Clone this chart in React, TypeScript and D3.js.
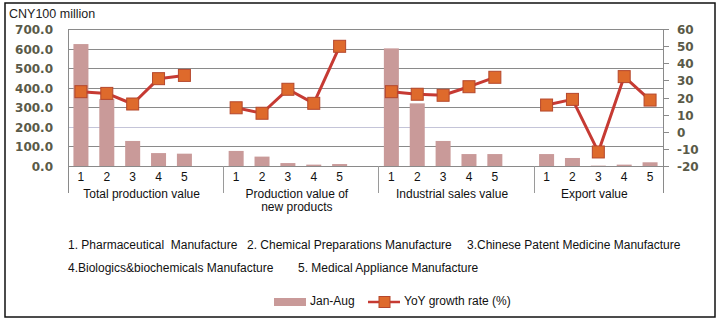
import React from "react";
import * as d3 from "d3";

const groups = ["Total production value", "Production value of new products", "Industrial sales value", "Export value"];
const groupLabelLines = [["Total production value"], ["Production value of", "new products"], ["Industrial sales value"], ["Export value"]];
const items = ["1", "2", "3", "4", "5"];

const totalProdValue = [623, 342, 128, 66, 63];
const newProdValue = [77, 48, 15, 7, 10];
const salesValue = [601, 320, 128, 61, 61];
const exportValue = [61, 41, 2, 7, 19];

const totalProdYoy = [23.4, 22.4, 16.2, 31.0, 32.9];
const newProdYoy = [14.0, 10.8, 24.8, 16.6, 49.9];
const salesYoy = [23.4, 21.9, 21.3, 26.3, 31.8];
const exportYoy = [15.6, 18.9, -11.8, 32.2, 18.5];

const leftTicks = [0, 100, 200, 300, 400, 500, 600, 700];
const rightTicks = [-20, -10, 0, 10, 20, 30, 40, 50, 60];

const legendNotes = [
  { text: "1. Pharmaceutical  Manufacture", row: 0, x: 68 },
  { text: "2. Chemical Preparations Manufacture", row: 0, x: 247 },
  { text: "3.Chinese Patent Medicine Manufacture", row: 0, x: 467 },
  { text: "4.Biologics&biochemicals Manufacture", row: 1, x: 68 },
  { text: "5. Medical Appliance Manufacture", row: 1, x: 298 },
];
const seriesNames = ["Jan-Aug", "YoY growth rate (%)"];

const barValues = [totalProdValue, newProdValue, salesValue, exportValue];
const yoyValues = [totalProdYoy, newProdYoy, salesYoy, exportYoy];

const W = 726, H = 323;
const PL = 68, PR = 663, PT = 29, PB = 166;
const BAR = "#c99a99";
const LINE = "#c63a33";
const MARK = "#de6a2c";
const MARK_STROKE = "#b5472c";
const AXIS_TXT = "#5a5a48";
const FONT = "Liberation Sans, Arial, sans-serif";

export default function App() {
  const nSlots = groups.length * 6 - 1;
  const x = d3.scaleBand<number>().domain(d3.range(nSlots)).range([PL, PR]).paddingInner(0.42).paddingOuter(0.21);
  const step = x.step();
  const yL = d3.scaleLinear().domain([0, 700]).range([PB, PT]);
  const yR = d3.scaleLinear().domain([-20, 60]).range([PB, PT]);
  const slot = (g: number, i: number) => g * 6 + i;
  const cx = (g: number, i: number) => (x(slot(g, i)) as number) + x.bandwidth() / 2;
  const groupStart = (g: number) => PL + step * g * 6;
  const groupEnd = (g: number) => Math.min(PR, PL + step * (g * 6 + 6));

  return (
    <svg width={W} height={H} style={{ position: "absolute", left: 0, top: 0, background: "#fff" }}>
      <rect x={5} y={3} width={710} height={314} fill="#fff" stroke="#111" strokeWidth={1.5} />
      <text x={9} y={18} fontFamily={FONT} fontSize={12.5} fill="#222">CNY100 million</text>

      {leftTicks.map((t) => (
        <line key={"g" + t} x1={PL} x2={PR} y1={Math.round(yL(t)) + 0.5} y2={Math.round(yL(t)) + 0.5}
          stroke={t === 200 ? "#c4c4d8" : "#8a8a8a"} strokeWidth={1} />
      ))}
      {leftTicks.map((t) => (
        <text key={"l" + t} x={53} y={yL(t) + 5} textAnchor="end" fontFamily="DejaVu Sans, sans-serif" fontWeight="bold" fontSize={12} fill={AXIS_TXT}>{t.toFixed(1)}</text>
      ))}
      <line x1={PR + 0.5} x2={PR + 0.5} y1={PT} y2={193} stroke="#8a8a8a" />
      {rightTicks.map((t) => (
        <g key={"r" + t}>
          <line x1={PR} x2={PR + 6} y1={Math.round(yR(t)) + 0.5} y2={Math.round(yR(t)) + 0.5} stroke="#8a8a8a" />
          <text x={677} y={yR(t) + 5} fontFamily="DejaVu Sans, sans-serif" fontWeight="bold" fontSize={12} fill={AXIS_TXT}>{t}</text>
        </g>
      ))}
      <line x1={PL + 0.5} x2={PL + 0.5} y1={PT} y2={193} stroke="#8a8a8a" />
      {groups.slice(1).map((_, g) => (
        <line key={"s" + g} x1={Math.round(groupStart(g + 1)) + 0.5} x2={Math.round(groupStart(g + 1)) + 0.5} y1={PB} y2={193} stroke="#9a9a9a" />
      ))}

      {barValues.map((vals, g) =>
        vals.map((v, i) => (
          <rect key={"b" + g + i} x={x(slot(g, i))} y={yL(v)} width={x.bandwidth()} height={PB - yL(v)} fill={BAR} />
        ))
      )}

      {yoyValues.map((vals, g) => {
        const pts = vals.map((v, i) => [cx(g, i), yR(v)] as [number, number]);
        const path = d3.line<[number, number]>().x((d) => d[0]).y((d) => d[1])(pts) || "";
        return <path key={"p" + g} d={path} fill="none" stroke={LINE} strokeWidth={3} strokeLinejoin="round" />;
      })}
      {yoyValues.map((vals, g) =>
        vals.map((v, i) => (
          <rect key={"m" + g + i} x={cx(g, i) - 6} y={yR(v) - 6} width={12} height={12} fill={MARK} stroke={MARK_STROKE} strokeWidth={1} />
        ))
      )}

      {groups.map((_, g) =>
        items.map((it, i) => (
          <text key={"i" + g + i} x={cx(g, i)} y={181} textAnchor="middle" fontFamily={FONT} fontSize={12} fill="#111">{it}</text>
        ))
      )}
      {groupLabelLines.map((lines, g) =>
        lines.map((ln, k) => (
          <text key={"gl" + g + k} x={(groupStart(g) + groupEnd(g)) / 2 - 4} y={198 + k * 13} textAnchor="middle"
            fontFamily={FONT} fontSize={12} fill="#111">{ln}</text>
        ))
      )}

      {legendNotes.map((n) => (
        <text key={n.text} x={n.x} y={249 + n.row * 23} fontFamily={FONT} fontSize={12} fill="#111" style={{ whiteSpace: "pre" }}>{n.text}</text>
      ))}

      <rect x={274} y={298} width={32} height={8} fill={BAR} />
      <text x={310} y={305} fontFamily={FONT} fontSize={12} fill="#111">{seriesNames[0]}</text>
      <line x1={368} x2={400} y1={302} y2={302} stroke={LINE} strokeWidth={2.5} />
      <rect x={379} y={296.5} width={11} height={11} fill={MARK} stroke={MARK_STROKE} />
      <text x={404} y={305} fontFamily={FONT} fontSize={12} fill="#111">{seriesNames[1]}</text>
    </svg>
  );
}
